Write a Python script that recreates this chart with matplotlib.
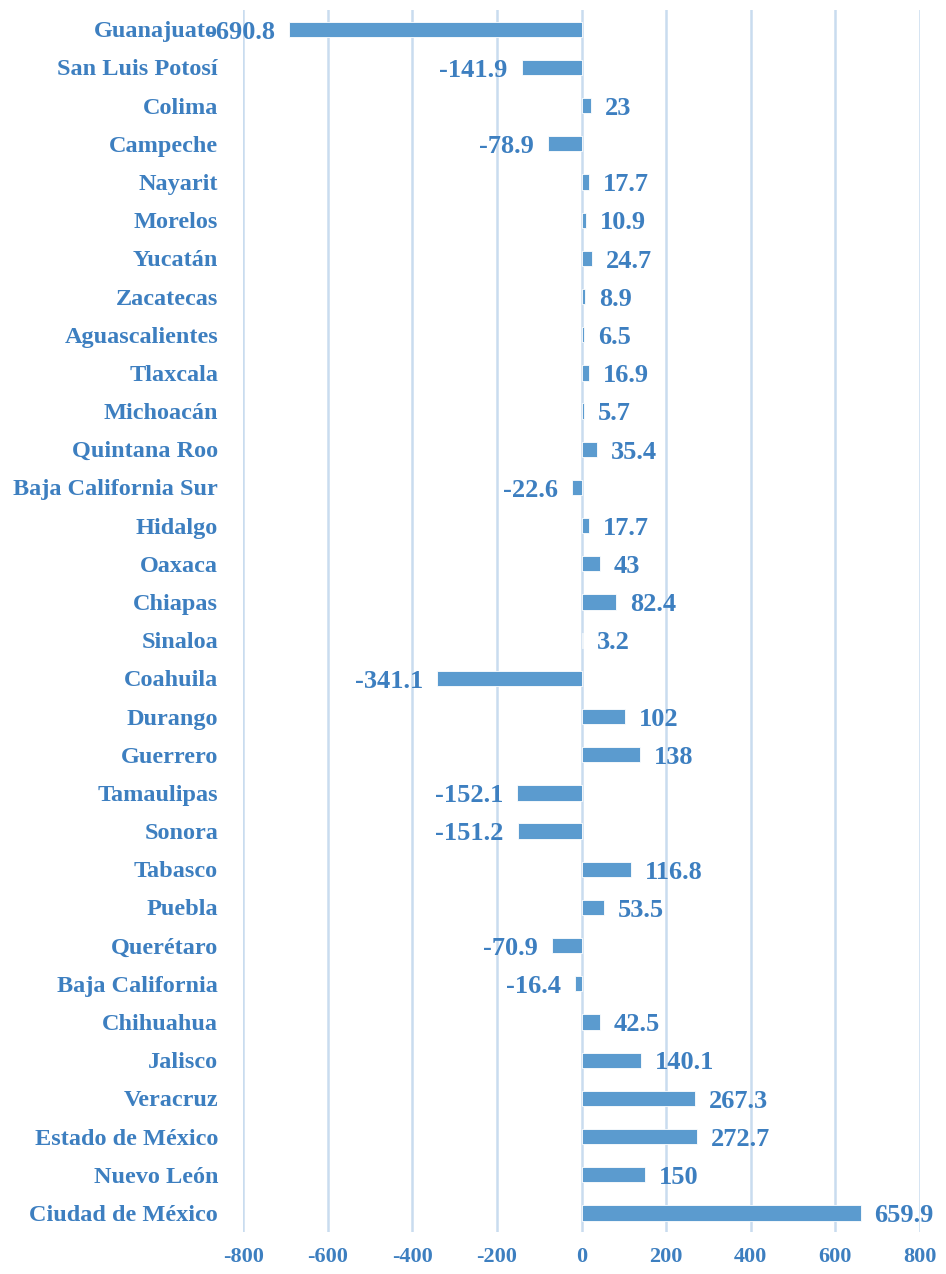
import matplotlib
matplotlib.use("Agg")
import matplotlib.pyplot as plt

states = ["Guanajuato", "San Luis Potosí", "Colima", "Campeche", "Nayarit", "Morelos",
          "Yucatán", "Zacatecas", "Aguascalientes", "Tlaxcala", "Michoacán", "Quintana Roo",
          "Baja California Sur", "Hidalgo", "Oaxaca", "Chiapas", "Sinaloa", "Coahuila",
          "Durango", "Guerrero", "Tamaulipas", "Sonora", "Tabasco", "Puebla", "Querétaro",
          "Baja California", "Chihuahua", "Jalisco", "Veracruz", "Estado de México",
          "Nuevo León", "Ciudad de México"]
values = [-690.8, -141.9, 23, -78.9, 17.7, 10.9, 24.7, 8.9, 6.5, 16.9, 5.7, 35.4,
          -22.6, 17.7, 43, 82.4, 3.2, -341.1, 102, 138, -152.1, -151.2, 116.8, 53.5,
          -70.9, -16.4, 42.5, 140.1, 267.3, 272.7, 150, 659.9]
xticks = [-800, -600, -400, -200, 0, 200, 400, 600, 800]

bar_color = "#5b9bcf"
text_color = "#3d7fc0"
grid_color = "#c9dcef"

plt.rcParams['font.family'] = ['Liberation Serif', 'DejaVu Serif']
plt.rcParams['font.weight'] = 'bold'

fig = plt.figure(figsize=(9.46, 12.74), dpi=100)
ax = fig.add_axes([0.257, 0.033, 0.7155, 0.959])

pos = list(range(len(states)))
ax.barh(pos, values, height=0.40, color=bar_color, edgecolor="white", linewidth=0.6, zorder=3)

for p, v in zip(pos, values):
    lab = f"{v:g}"
    if v >= 0:
        ax.annotate(lab, (v, p), xytext=(10, -2), textcoords="offset points",
                    ha="left", va="center", fontsize=19, fontweight="bold", color=text_color)
    else:
        ax.annotate(lab, (v, p), xytext=(-10, -2), textcoords="offset points",
                    ha="right", va="center", fontsize=19, fontweight="bold", color=text_color)

ax.set_xlim(-800, 800)
ax.set_ylim(len(states) - 0.5, -0.5)
ax.set_xticks(xticks)
ax.set_xticklabels([str(t) for t in xticks], fontsize=16, fontweight="bold", color=text_color)
ax.set_yticks(pos)
ax.set_yticklabels(states, fontsize=17.5, fontweight="bold", color=text_color)
ax.tick_params(axis="both", length=0)
ax.tick_params(axis="y", pad=18)
ax.tick_params(axis="x", pad=11)
ax.grid(axis="x", color=grid_color, linewidth=1.8, zorder=0)
ax.set_axisbelow(True)
for s in ax.spines.values():
    s.set_visible(False)

fig.savefig("out.png", dpi=100)
